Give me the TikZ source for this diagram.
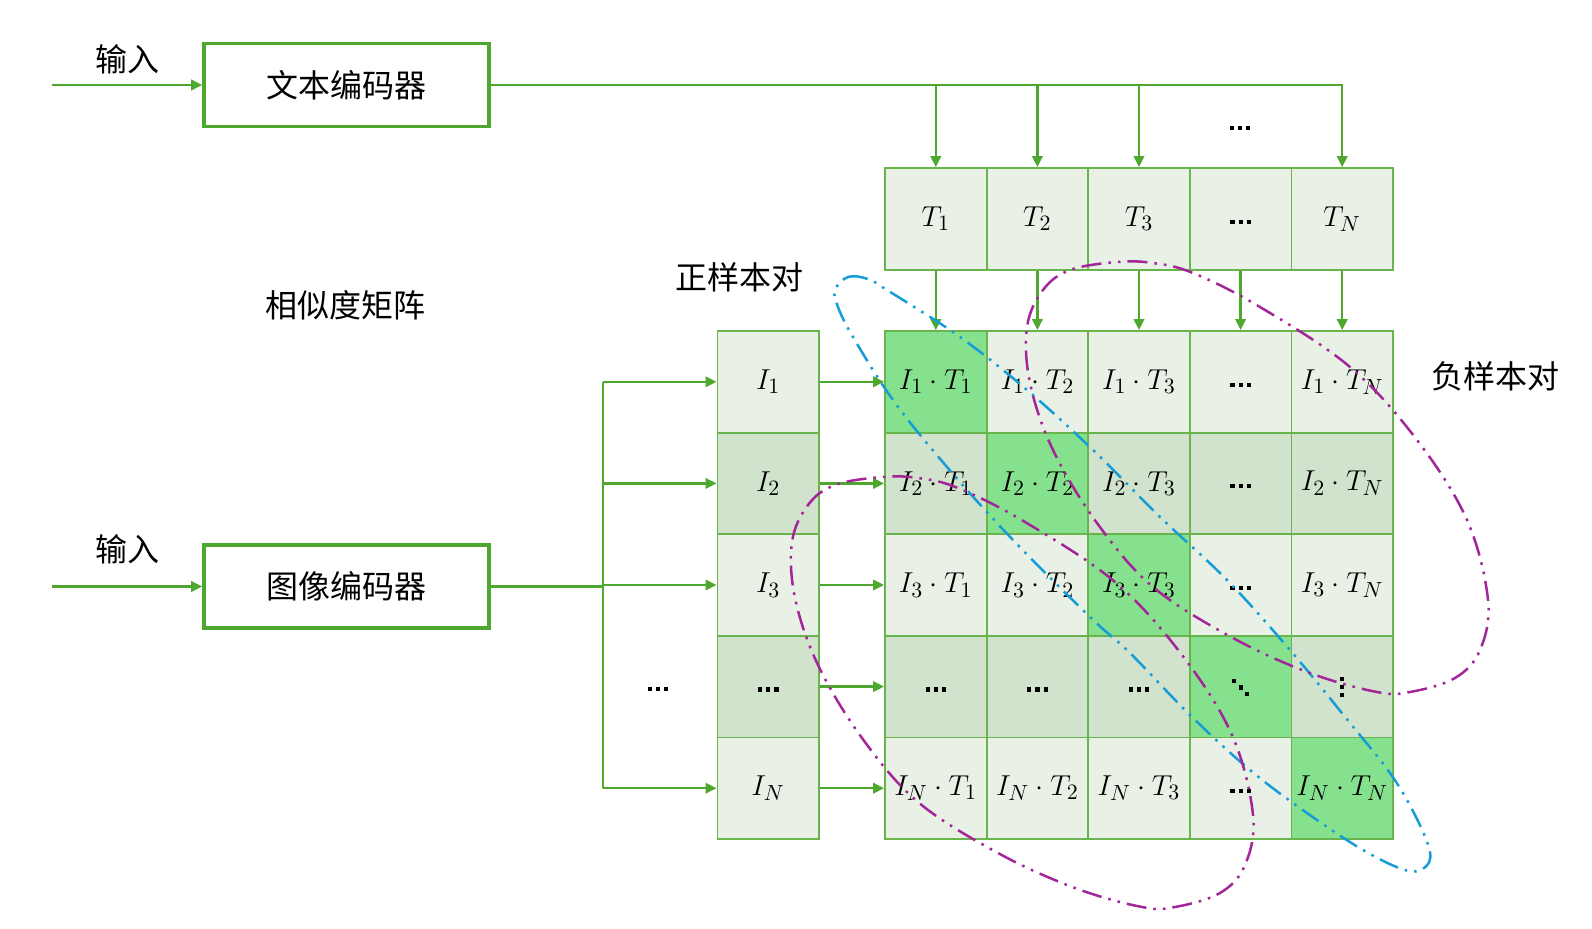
\documentclass[tikz,border=0pt]{standalone}
\usepackage{amsmath}
\usepackage{fontspec}
\newfontfamily\cjk{Noto Sans CJK SC}
\usepackage{xcolor}
\usetikzlibrary{arrows.meta, positioning, calc}

\definecolor{lgreen}{RGB}{78,167,46}
\definecolor{clight}{RGB}{233,241,230}
\definecolor{cdark}{RGB}{209,226,205}
\definecolor{cdiag}{RGB}{134,225,143}
\definecolor{posblue}{RGB}{22,157,215}
\definecolor{negpurple}{RGB}{163,38,152}

%% Square dots as drawn in the cells
\newcommand{\sqdot}{\rule{2.1pt}{2.1pt}}
\newcommand{\celldots}{\raisebox{-2.5pt}[0pt][0pt]{%
  \sqdot\hspace{2pt}\sqdot\hspace{2pt}\sqdot}}
\newcommand{\celldd}{\raisebox{-1.5pt}[0pt][0pt]{%
  \raisebox{3.2pt}{\sqdot}\hspace{1.1pt}\sqdot\hspace{1.1pt}%
  \raisebox{-3.2pt}{\sqdot}}}
\newcommand{\cellvd}{\vbox{\offinterlineskip
  \hbox{\sqdot}\vskip1.9pt\hbox{\sqdot}\vskip1.9pt\hbox{\sqdot}}}
\newcommand{\idx}[1]{\ifnum#1=5 N\else#1\fi}
\newcommand{\tval}[1]{\ifnum#1=4 \celldots\else$T_{\idx{#1}}$\fi}
\newcommand{\ival}[1]{\ifnum#1=4 \celldots\else$I_{\idx{#1}}$\fi}
\newcommand{\cellval}[2]{%
  \ifnum#1=4 \ifnum#2=4 \celldd\else\ifnum#2=5 \cellvd\else\celldots\fi\fi
  \else\ifnum#2=4 \celldots\else$I_{\idx{#1}}\cdot T_{\idx{#2}}$\fi\fi}

\tikzset{
  %% Encoder box
  encbox/.style={
    rectangle, draw=lgreen, line width=1.8pt,
    minimum width=142.5pt, minimum height=41.5pt,
    font=\cjk\fontsize{16}{18}\selectfont
  },
  %% Matrix cell
  cell/.style={
    rectangle, draw=lgreen!85!white, fill=#1,
    line width=0.9pt, minimum size=50.8pt, inner sep=0pt,
    font=\fontsize{15.5}{17}\selectfont
  },
  cell/.default=clight,
  %% Arrow
  arr/.style={-{Triangle[length=5.5pt,width=5.2pt]},
              draw=lgreen, line width=1.2pt},
  wire/.style={draw=lgreen, line width=1.2pt},
  %% Text label
  lbl/.style={font=\cjk\fontsize{16}{18}\selectfont, inner sep=0pt},
  %% Sample-pair loop
  pairloop/.style={
    draw=#1, line width=1.25pt,
    dash pattern=on 10pt off 3.5pt on 1.3pt off 3.5pt on 1.3pt off 3.5pt
  },
}

\begin{document}
\begin{tikzpicture}[x=0.5pt, y=-0.5pt]

  \useasboundingbox (0,0) rectangle (1592,928);

  %% Encoders
  \node[encbox] (tenc) at (346.5,85)  {文本编码器};
  \node[encbox] (ienc) at (346.5,586.5) {图像编码器};

  %% Inputs
  \coordinate (inT) at (52,85);
  \coordinate (inI) at (52,586.5);
  \node[lbl] (lblT) at (127,59)  {输入};
  \node[lbl] (lblI) at (127,549) {输入};
  \draw[arr] (inT) -- (tenc.west);
  \draw[arr] (inI) -- (ienc.west);

  %% Labels
  \node[lbl] (simlbl) at (345,305)  {相似度矩阵};
  \node[lbl] (poslbl) at (739,277)  {正样本对};
  \node[lbl] (neglbl) at (1495,376) {负样本对};

  %% Text features
  \foreach \c in {1,...,5}
    \node[cell] (t\c) at ({834.2+101.6*\c},218.8) {\tval{\c}};

  %% Image features
  \foreach \r in {1,...,5}{
    \ifodd\r \def\cf{clight}\else\def\cf{cdark}\fi
    \node[cell=\cf] (i\r) at (768.2,{280.2+101.6*\r}) {\ival{\r}};
  }

  %% Similarity matrix
  \foreach \r in {1,...,5}{
    \foreach \c in {1,...,5}{
      \ifnum\r=\c \def\cf{cdiag}\else
        \ifodd\r \def\cf{clight}\else\def\cf{cdark}\fi\fi
      \node[cell=\cf] (m-\r-\c) at ({834.2+101.6*\c},{280.2+101.6*\r})
           {\cellval{\r}{\c}};
    }
  }

  %% Text encoder to text features
  \draw[arr] (tenc.east) -| (t5.north);
  \foreach \c in {1,2,3}
    \draw[arr] (tenc.east -| t\c.north) -- (t\c.north);
  \node (tdots) at (1240,125) {\celldots};

  %% Text features to matrix
  \foreach \c in {1,...,5}
    \draw[arr] (t\c.south) -- (m-1-\c.north);

  %% Image encoder to image features
  \coordinate (trunk) at (603,586.5);
  \draw[wire] (ienc.east) -- (trunk);
  \draw[wire] (trunk |- i1) -- (trunk |- i5);
  \foreach \r in {1,2,3,5}
    \draw[arr] (trunk |- i\r) -- (i\r.west);
  \node (idots) at (658,686) {\celldots};

  %% Image features to matrix
  \foreach \r in {1,...,5}
    \draw[arr] (i\r.east) -- (m-\r-1.west);

  %% Positive pairs
  \draw[pairloop=posblue] plot[smooth cycle, tension=0.6] coordinates {
    (835,290) (848,277) (868,279) (887,290) (960,337) (1027,390)
    (1093,450) (1160,517) (1227,580) (1290,650) (1350,723) (1390,773)
    (1415,815) (1430,852) (1424,868) (1405,870) (1363,850) (1307,813)
    (1250,770) (1190,715) (1130,653) (1090,617) (1013,540) (947,467)
    (893,400) (853,337) (838,307)};

  %% Negative pairs
  \foreach \dx/\dy in {0/0, -235/215}
    \draw[pairloop=negpurple, shift={(\dx,\dy)}]
      plot[smooth cycle, tension=0.6] coordinates {
      (1027,327) (1043,290) (1070,270) (1117,262) (1153,263) (1193,273)
      (1260,307) (1350,367) (1417,440) (1467,520) (1488,600) (1480,650)
      (1455,678) (1410,692) (1377,692) (1310,673) (1233,638) (1153,587)
      (1097,523) (1053,450) (1030,383)};

\end{tikzpicture}
\end{document}
